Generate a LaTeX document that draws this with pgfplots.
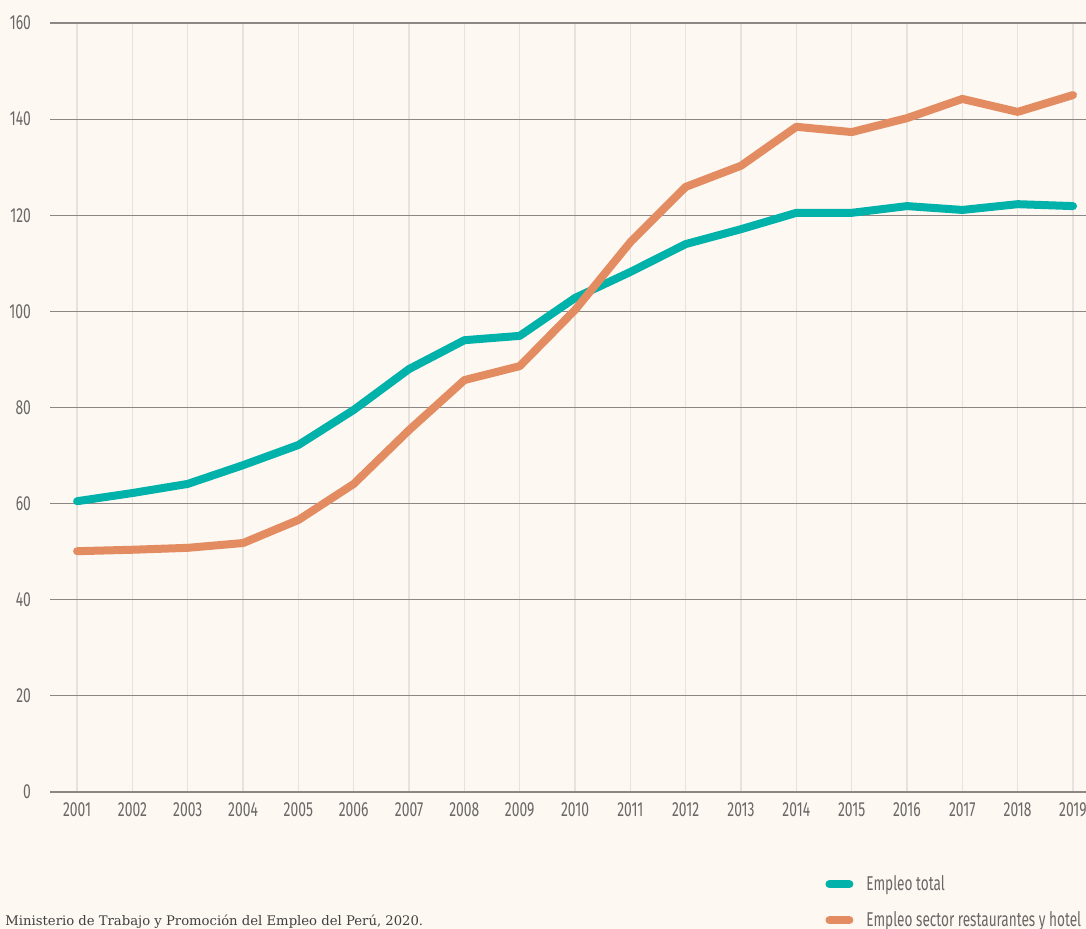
\documentclass[border=0pt]{standalone}
\usepackage{pgfplots}
\pgfplotsset{compat=1.18}
\usepackage{fontspec}
\setmainfont{Fira Sans}[FakeStretch=0.68]
\newfontfamily\srcfont{DejaVu Serif}
\definecolor{bg}{HTML}{FDF8F2}
\definecolor{myteal}{HTML}{00B2A9}
\definecolor{myorange}{HTML}{E38C62}
\definecolor{txt}{HTML}{6B6766}
\definecolor{hgrid}{HTML}{8C8785}
\definecolor{vgrid}{HTML}{E7E2DD}
\begin{document}
\begin{tikzpicture}
\useasboundingbox (0,0) rectangle (543pt,464.5pt);
\fill[bg] (0,0) rectangle (543pt,464.5pt);
\begin{axis}[
  at={(25pt,68.5pt)}, anchor=south west,
  scale only axis, width=518pt, height=384.5pt,
  xmin=2000.51, xmax=2019.235, ymin=0, ymax=160,
  axis line style={draw=none},
  major tick length=0pt,
  xtick={2001,2002,...,2019}, ytick={0,20,...,160},
  /pgf/number format/1000 sep={},
  /pgf/number format/assume math mode=true,
  grid=major,
  x grid style={vgrid, line width=0.7pt},
  y grid style={hgrid, line width=0.6pt},
  tick label style={text=txt, font=\fontsize{10.2}{12}\selectfont},
  yticklabel style={xshift=-6pt},
  xticklabel style={yshift=-2pt},
  legend style={draw=none, fill=none, at={(0.7423,-0.0974)}, anchor=north west,
    font=\fontsize{10}{12}\selectfont, text=txt, row sep=5pt},
  legend cell align=left,
  legend image code/.code={\draw[#1, line cap=round] (0pt,0pt) -- (10pt,0pt); \path (14.5pt,0pt);},
]
\addplot[myteal, line width=4pt, line cap=round, line join=round] coordinates {
(2001,60.5) (2002,62.2) (2003,64.1) (2004,68.0) (2005,72.2) (2006,79.5)
(2007,88.0) (2008,94.0) (2009,94.9) (2010,102.8) (2011,108.2) (2012,114.0)
(2013,117.1) (2014,120.5) (2015,120.5) (2016,121.9) (2017,121.1) (2018,122.3) (2019,121.9)};
\addlegendentry{Empleo total}
\addplot[myorange, line width=4pt, line cap=round, line join=round] coordinates {
(2001,50.1) (2002,50.4) (2003,50.8) (2004,51.8) (2005,56.6) (2006,64.1)
(2007,75.3) (2008,85.7) (2009,88.6) (2010,100.3) (2011,114.4) (2012,125.9)
(2013,130.3) (2014,138.4) (2015,137.3) (2016,140.2) (2017,144.2) (2018,141.5) (2019,145.0)};
\addlegendentry{Empleo sector restaurantes y hotel}
\end{axis}
\node[anchor=base west, inner sep=0pt, text=black!75, font=\srcfont\fontsize{6.6}{8}\selectfont] at (2.5pt,1.5pt) {Ministerio de Trabajo y Promoción del Empleo del Perú, 2020.};
\end{tikzpicture}
\end{document}
